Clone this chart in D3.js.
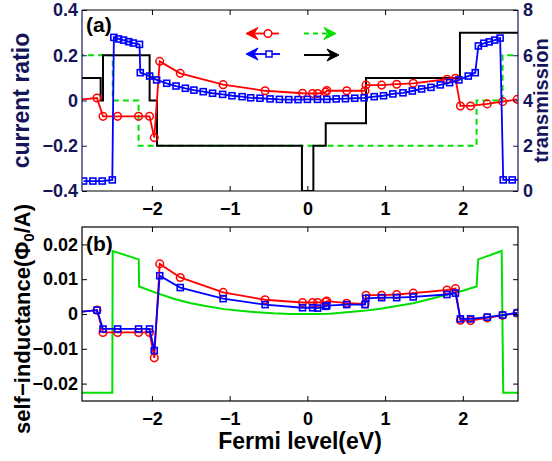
<!DOCTYPE html>
<html>
<head>
<meta charset="utf-8">
<script src="https://cdn.jsdelivr.net/npm/d3@7"></script>
<style>
  html, body { margin: 0; padding: 0; background: #fff; }
  svg text { font-family: "Liberation Sans", Arial, sans-serif; font-weight: bold; }
</style>
</head>
<body>
<svg id="chart" width="552" height="461"></svg>
<script>
// energies of the red/circle points (shared by panel a and b)
const energyRed = [-2.95, -2.707, -2.63, -2.442, -2.172, -2.031, -1.97, -1.90, -1.636, -1.084, -0.544, -0.062, 0.067, 0.131, 0.235, 0.25, 0.506, 0.742, 0.754, 0.956, 1.149, 1.362, 1.796, 1.905, 1.969, 2.100, 2.314, 2.512, 2.699];
const ratioRed = [0.003, 0.011, -0.070, -0.070, -0.070, -0.070, -0.164, 0.173, 0.120, 0.070, 0.043, 0.032, 0.031, 0.031, 0.037, 0.044, 0.043, 0.043, 0.068, 0.068, 0.072, 0.076, 0.094, 0.098, -0.024, -0.024, -0.015, -0.005, 0.005];

const energyBlue = [-2.88, -2.76, -2.64, -2.51, -2.49, -2.43, -2.365, -2.30, -2.24, -2.16, -2.15, -2.03, -1.94, -1.81, -1.69, -1.57, -1.46, -1.34, -1.22, -1.09, -0.97, -0.84, -0.73, -0.61, -0.48, -0.36, -0.24, -0.12, 0.0, 0.13, 0.25, 0.37, 0.49, 0.61, 0.73, 0.86, 0.98, 1.10, 1.23, 1.35, 1.47, 1.59, 1.71, 1.83, 1.95, 2.07, 2.16, 2.20, 2.27, 2.34, 2.41, 2.48, 2.52, 2.635, 2.76];
const ratioBlue = [-0.356, -0.356, -0.356, -0.351, 0.279, 0.272, 0.267, 0.260, 0.254, 0.248, 0.123, 0.108, 0.091, 0.076, 0.064, 0.054, 0.046, 0.039, 0.032, 0.027, 0.021, 0.017, 0.012, 0.010, 0.007, 0.005, 0.004, 0.004, 0.005, 0.005, 0.005, 0.007, 0.008, 0.010, 0.012, 0.017, 0.021, 0.029, 0.034, 0.042, 0.051, 0.058, 0.069, 0.079, 0.091, 0.108, 0.123, 0.241, 0.253, 0.259, 0.267, 0.276, -0.351, -0.351, -0.351];

// transmission steps (value holds until next energy)
const stepBlackE = [-2.95, -2.66, -2.63, -2.03, -1.935, -0.07, 0.077, 0.236, 0.754, 1.963, 2.75];
const stepBlackT = [5, 4, 6, 4, 2, 0, 2, 3, 5, 7, 7];
const stepGreenE = [-2.95, -2.504, -2.172, 2.177, 2.511, 2.75];
const stepGreenT = [6, 4, 2, 4, 6, 6];

// panel b: self-inductance
const inductRed = [0.0006, 0.0011, -0.0053, -0.0053, -0.0053, -0.0053, -0.0126, 0.0144, 0.0105, 0.0062, 0.0041, 0.0033, 0.0033, 0.0033, 0.0035, 0.0037, 0.0031, 0.0029, 0.0054, 0.0054, 0.0056, 0.0060, 0.0069, 0.0073, -0.0018, -0.0019, -0.0011, -0.0004, 0.0003];
const inductBlue = [0.0006, 0.0011, -0.0043, -0.0043, -0.0043, -0.0043, -0.0105, 0.0110, 0.0076, 0.0044, 0.0027, 0.0018, 0.0018, 0.0017, 0.0022, 0.0024, 0.0027, 0.0027, 0.0045, 0.0047, 0.0047, 0.0049, 0.0056, 0.0060, -0.0014, -0.0014, -0.0009, -0.0003, 0.0003];
const greenE = [-2.95, -2.51, -2.505, -2.17, -2.165, -1.936, -1.72, -1.5, -1.29, -1.07, -0.865, -0.65, -0.44, -0.22, 0.07, 0.29, 0.5, 0.72, 0.94, 1.15, 1.36, 1.58, 1.79, 2.0, 2.177, 2.198, 2.50, 2.52, 2.75];
const greenInd = [-0.0226, -0.0226, 0.0181, 0.0157, 0.0079, 0.0060, 0.0044, 0.0031, 0.0022, 0.0014, 0.0009, 0.0005, 0.0002, 0.0000, 0.0000, 0.0001, 0.0005, 0.0009, 0.0015, 0.0023, 0.0031, 0.0043, 0.0055, 0.0067, 0.0079, 0.0157, 0.0181, -0.0226, -0.0226];

const xTicks = [-2, -1, 0, 1, 2];
const ratioTicks = [-0.4, -0.2, 0, 0.2, 0.4];
const transTicks = [0, 2, 4, 6, 8];
const inductTicks = [-0.02, -0.01, 0, 0.01, 0.02];

const NAVY = '#15155a';
const fmt = v => (v < 0 ? '\u2212' : '') + String(Math.abs(v));

const svg = d3.select('#chart');
const left = 82, right = 518;
const topA = 10, botA = 191, topB = 227, botB = 401;

const x = d3.scaleLinear().domain([-2.9, 2.71]).range([left, right]);
const yRatio = d3.scaleLinear().domain([-0.4, 0.4]).range([botA, topA]);
const yTrans = d3.scaleLinear().domain([0, 8]).range([botA, topA]);
const yInd = d3.scaleLinear().domain([-0.025, 0.025]).range([botB, topB]);

const defs = svg.append('defs');
defs.append('clipPath').attr('id', 'clipA').append('rect')
  .attr('x', left).attr('y', topA).attr('width', right - left).attr('height', botA - topA);
defs.append('clipPath').attr('id', 'clipB').append('rect')
  .attr('x', left).attr('y', topB).attr('width', right - left).attr('height', botB - topB);

function styleAxis(g, color) {
  g.select('.domain').remove();
  g.selectAll('line').attr('stroke', color).attr('stroke-width', 1);
  g.selectAll('text').attr('fill', color).style('font-size', '18px')
    .style('font-family', '"Liberation Sans", Arial, sans-serif').style('font-weight', 'bold');
}

// ---------- panel (a)
const gA = svg.append('g');
const plotA = gA.append('g').attr('clip-path', 'url(#clipA)');

const lineT = d3.line().x(d => x(d[0])).y(d => yTrans(d[1])).curve(d3.curveStepAfter);
plotA.append('path').datum(stepGreenE.map((e, i) => [e, stepGreenT[i]]))
  .attr('d', lineT).attr('fill', 'none').attr('stroke', '#00e000')
  .attr('stroke-width', 2).attr('stroke-dasharray', '6,4');
plotA.append('path').datum(stepBlackE.map((e, i) => [e, stepBlackT[i]]))
  .attr('d', lineT).attr('fill', 'none').attr('stroke', '#000').attr('stroke-width', 2);

const lineR = d3.line().x(d => x(d[0])).y(d => yRatio(d[1]));
const redA = energyRed.map((e, i) => [e, ratioRed[i]]);
const blueA = energyBlue.map((e, i) => [e, ratioBlue[i]]);

plotA.append('path').datum(redA).attr('d', lineR)
  .attr('fill', 'none').attr('stroke', '#ff0000').attr('stroke-width', 1.8);
plotA.selectAll('.rc').data(redA).enter().append('circle')
  .attr('cx', d => x(d[0])).attr('cy', d => yRatio(d[1])).attr('r', 3.8)
  .attr('fill', 'none').attr('stroke', '#ff0000').attr('stroke-width', 1.5);

plotA.append('path').datum(blueA).attr('d', lineR)
  .attr('fill', 'none').attr('stroke', '#0000ff').attr('stroke-width', 1.8);
plotA.selectAll('.bs').data(blueA).enter().append('rect')
  .attr('x', d => x(d[0]) - 3).attr('y', d => yRatio(d[1]) - 3)
  .attr('width', 6).attr('height', 6)
  .attr('fill', 'none').attr('stroke', '#0000ff').attr('stroke-width', 1.6);

// axes (a)
gA.append('g').attr('transform', `translate(0,${botA})`)
  .call(d3.axisBottom(x).tickValues(xTicks).tickSize(-5).tickPadding(11).tickFormat(fmt))
  .call(g => styleAxis(g, '#000'));
gA.append('g').attr('transform', `translate(0,${topA})`)
  .call(d3.axisTop(x).tickValues(xTicks).tickSize(-5).tickFormat(''))
  .call(g => styleAxis(g, '#000'));
gA.append('g').attr('transform', `translate(${left},0)`)
  .call(d3.axisLeft(yRatio).tickValues(ratioTicks).tickSize(-5).tickPadding(4).tickFormat(fmt))
  .call(g => styleAxis(g, NAVY));
gA.append('g').attr('transform', `translate(${right},0)`)
  .call(d3.axisRight(yTrans).tickValues(transTicks).tickSize(-5).tickPadding(5).tickFormat(d => d))
  .call(g => styleAxis(g, NAVY));

gA.append('line').attr('x1', left).attr('x2', right).attr('y1', topA).attr('y2', topA)
  .attr('stroke', '#000').attr('stroke-width', 1.2);
gA.append('line').attr('x1', left).attr('x2', right).attr('y1', botA).attr('y2', botA)
  .attr('stroke', '#000').attr('stroke-width', 1.2);
gA.append('line').attr('x1', left).attr('x2', left).attr('y1', topA).attr('y2', botA)
  .attr('stroke', NAVY).attr('stroke-width', 1.2);
gA.append('line').attr('x1', right).attr('x2', right).attr('y1', topA).attr('y2', botA)
  .attr('stroke', NAVY).attr('stroke-width', 1.2);

gA.append('text').attr('x', 86).attr('y', 32).style('font-size', '21px').text('(a)');

gA.append('text').attr('transform', `translate(21,${(topA + botA) / 2}) rotate(-90)`)
  .attr('text-anchor', 'middle').attr('dominant-baseline', 'central')
  .attr('fill', NAVY).style('font-size', '23px').text('current ratio');
// baseline near the right edge so the glyphs sit between tick labels and border
gA.append('text').attr('transform', `translate(547.5,${(topA + botA) / 2}) rotate(-90)`)
  .attr('text-anchor', 'middle')
  .attr('fill', NAVY).style('font-size', '20px').text('transmission');

// legend arrows
function arrowHead(g, tipX, y, dir, color) {
  const L = 12, W = 6, back = 4;
  const p = d3.path();
  p.moveTo(tipX, y);
  p.lineTo(tipX + dir * L, y - W);
  p.lineTo(tipX + dir * (L - back), y);
  p.lineTo(tipX + dir * L, y + W);
  p.closePath();
  g.append('path').attr('d', p.toString()).attr('fill', color).attr('stroke', color).attr('stroke-width', 1);
}
const leg = gA.append('g');
leg.append('line').attr('x1', 250).attr('x2', 279).attr('y1', 33.5).attr('y2', 33.5)
  .attr('stroke', '#ff0000').attr('stroke-width', 1.8);
arrowHead(leg, 246, 33.5, 1, '#ff0000');
leg.append('circle').attr('cx', 268).attr('cy', 33.5).attr('r', 3.8)
  .attr('fill', '#fff').attr('stroke', '#ff0000').attr('stroke-width', 1.5);

leg.append('line').attr('x1', 250).attr('x2', 280).attr('y1', 54).attr('y2', 54)
  .attr('stroke', '#0000ff').attr('stroke-width', 1.8);
arrowHead(leg, 246, 54, 1, '#0000ff');
leg.append('rect').attr('x', 266).attr('y', 51).attr('width', 6).attr('height', 6)
  .attr('fill', '#fff').attr('stroke', '#0000ff').attr('stroke-width', 1.5);

leg.append('line').attr('x1', 304).attr('x2', 330).attr('y1', 33.5).attr('y2', 33.5)
  .attr('stroke', '#00e000').attr('stroke-width', 2).attr('stroke-dasharray', '5,4');
arrowHead(leg, 336, 33.5, -1, '#00e000');

leg.append('line').attr('x1', 304).attr('x2', 332).attr('y1', 55).attr('y2', 55)
  .attr('stroke', '#000').attr('stroke-width', 2);
arrowHead(leg, 339, 55, -1, '#000');

// ---------- panel (b)
const gB = svg.append('g');
const plotB = gB.append('g').attr('clip-path', 'url(#clipB)');
const lineI = d3.line().x(d => x(d[0])).y(d => yInd(d[1]));

plotB.append('path').datum(greenE.map((e, i) => [e, greenInd[i]]))
  .attr('d', lineI).attr('fill', 'none').attr('stroke', '#00e000').attr('stroke-width', 2);

const redB = energyRed.map((e, i) => [e, inductRed[i]]);
const blueB = energyRed.map((e, i) => [e, inductBlue[i]]);

plotB.append('path').datum(redB).attr('d', lineI)
  .attr('fill', 'none').attr('stroke', '#ff0000').attr('stroke-width', 1.8);
plotB.selectAll('.rc').data(redB).enter().append('circle')
  .attr('cx', d => x(d[0])).attr('cy', d => yInd(d[1])).attr('r', 3.8)
  .attr('fill', 'none').attr('stroke', '#ff0000').attr('stroke-width', 1.5);
plotB.append('path').datum(blueB).attr('d', lineI)
  .attr('fill', 'none').attr('stroke', '#0000ff').attr('stroke-width', 1.8);
plotB.selectAll('.bs').data(blueB).enter().append('rect')
  .attr('x', d => x(d[0]) - 3).attr('y', d => yInd(d[1]) - 3)
  .attr('width', 6).attr('height', 6)
  .attr('fill', 'none').attr('stroke', '#0000ff').attr('stroke-width', 1.6);

gB.append('g').attr('transform', `translate(0,${botB})`)
  .call(d3.axisBottom(x).tickValues(xTicks).tickSize(-5).tickPadding(11).tickFormat(fmt))
  .call(g => styleAxis(g, '#000'));
gB.append('g').attr('transform', `translate(0,${topB})`)
  .call(d3.axisTop(x).tickValues(xTicks).tickSize(-5).tickFormat(''))
  .call(g => styleAxis(g, '#000'));
gB.append('g').attr('transform', `translate(${left},0)`)
  .call(d3.axisLeft(yInd).tickValues(inductTicks).tickSize(-5).tickPadding(4).tickFormat(fmt))
  .call(g => styleAxis(g, '#000'));
gB.append('g').attr('transform', `translate(${right},0)`)
  .call(d3.axisRight(yInd).tickValues(inductTicks).tickSize(-5).tickFormat(''))
  .call(g => styleAxis(g, '#000'));
gB.append('rect').attr('x', left).attr('y', topB).attr('width', right - left).attr('height', botB - topB)
  .attr('fill', 'none').attr('stroke', '#000').attr('stroke-width', 1.2);

gB.append('text').attr('x', 86).attr('y', 251).style('font-size', '21px').text('(b)');

const yl = gB.append('text').attr('transform', `translate(22,319) rotate(-90)`)
  .attr('text-anchor', 'middle').attr('dominant-baseline', 'central')
  .attr('fill', '#000').style('font-size', '22px');
yl.append('tspan').text('self\u2212inductance(\u03A6');
yl.append('tspan').attr('dy', 6).style('font-size', '15px').text('0');
yl.append('tspan').attr('dy', -6).text('/A)');

gB.append('text').attr('x', (left + right) / 2).attr('y', 449)
  .attr('text-anchor', 'middle').style('font-size', '23px').text('Fermi level(eV)');
</script>
</body>
</html>
